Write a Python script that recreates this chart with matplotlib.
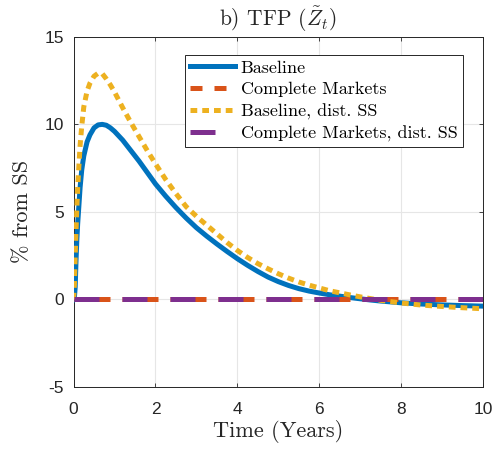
import matplotlib
matplotlib.use("Agg")
import matplotlib.pyplot as plt

# values (% deviation from SS)
time = [0, 0.02, 0.04, 0.06, 0.08, 0.1, 0.12, 0.16, 0.2, 0.25, 0.33, 0.4, 0.5,
        0.6, 0.7, 0.8, 0.9, 1.0, 1.2, 1.4, 1.6, 1.8, 2.0, 2.25, 2.5, 2.75,
        3.0, 3.25, 3.5, 3.75, 4.0, 4.25, 4.5, 4.75, 5.0, 5.25, 5.5, 5.75,
        6.0, 6.25, 6.5, 6.75, 7.0, 7.25, 7.5, 8.0, 8.5, 9.0, 9.5, 10.0]
baseline = [0, 0.1, 0.7, 2.2, 3.4, 4.3, 5.0, 6.4, 7.4, 8.2, 9.0, 9.4, 9.8,
            9.97, 10.0, 9.95, 9.8, 9.6, 9.1, 8.5, 7.9, 7.25, 6.6, 5.9, 5.25, 4.65,
            4.1, 3.62, 3.17, 2.74, 2.33, 1.95, 1.6, 1.28, 1.02, 0.8, 0.62, 0.48,
            0.37, 0.27, 0.19, 0.11, 0.04, -0.03, -0.09, -0.19, -0.26, -0.31, -0.35, -0.38]
baseline_dist = [0, 0.8, 2.5, 3.9, 5.2, 6.3, 7.2, 8.8, 9.9, 11.0, 11.9, 12.35, 12.75,
                 12.92, 12.9, 12.6, 12.25, 11.85, 10.95, 10.1, 9.3, 8.5, 7.75, 6.85, 6.05, 5.3,
                 4.75, 4.25, 3.75, 3.25, 2.8, 2.4, 2.05, 1.75, 1.47, 1.22, 1.0, 0.82,
                 0.66, 0.5, 0.38, 0.26, 0.15, 0.05, -0.05, -0.2, -0.32, -0.4, -0.47, -0.53]
cm_time = [0, 10]
complete = [0, 0]
complete_dist = [0, 0]

labels = ["Baseline", "Complete Markets", "Baseline, dist. SS",
          "Complete Markets, dist. SS"]
xticks = [0, 2, 4, 6, 8, 10]
yticks = [-5, 0, 5, 10, 15]

plt.rcParams['mathtext.fontset'] = 'cm'
plt.rcParams['axes.unicode_minus'] = False

fig = plt.figure(figsize=(4.97, 4.49), dpi=100)
ax = fig.add_axes([0.148, 0.138, 0.824, 0.780])

lw = 3.6
ax.plot(time, baseline, color='#0072BD', lw=lw, label=labels[0], zorder=3)
ax.plot(cm_time, complete, color='#D95319', lw=lw, dashes=(2.4, 2.4),
        dash_capstyle='butt', label=labels[1], zorder=3)
ax.plot(time, baseline_dist, color='#EDB120', lw=lw, dashes=(1.35, 1.0),
        dash_capstyle='butt', label=labels[2], zorder=4)
ax.plot(cm_time, complete_dist, color='#7E2F8E', lw=lw, dashes=(5.0, 4.6),
        dash_capstyle='butt', label=labels[3], zorder=4)

ax.set_xlim(0, 10)
ax.set_ylim(-5, 15)
ax.set_xticks(xticks)
ax.set_yticks(yticks)
ax.set_xticklabels([str(v) for v in xticks], family='Liberation Sans', fontsize=12.5)
ax.set_yticklabels([str(v) for v in yticks], family='Liberation Sans', fontsize=12.5)
ax.tick_params(direction='in', length=3, width=0.6, top=True, right=True,
               colors='#262626', labelcolor='#262626')
ax.tick_params(axis='x', pad=11)
ax.tick_params(axis='y', pad=7)
ax.grid(True, color='#e6e6e6', lw=0.8, zorder=0)
ax.set_axisbelow(True)
for s in ax.spines.values():
    s.set_color('#262626')
    s.set_linewidth(0.7)

ax.set_title(r'b) TFP ($\tilde{Z}_t$)', family='cmr10', fontsize=15.5, pad=8,
             color='#262626')
ax.set_xlabel('Time (Years)', family='cmr10', fontsize=16, color='#262626', labelpad=2)
ax.set_ylabel('% from SS', family='cmr10', fontsize=16, color='#262626', labelpad=9)

leg = ax.legend(loc='upper right', bbox_to_anchor=(0.951, 0.949), borderaxespad=0,
                prop={'family': 'cmr10', 'size': 13}, fancybox=False,
                edgecolor='#262626', framealpha=1, handlelength=2.5,
                handletextpad=0.3, labelspacing=0.33, borderpad=0.3)
leg.get_frame().set_linewidth(0.7)

fig.savefig('out.png', dpi=100)
